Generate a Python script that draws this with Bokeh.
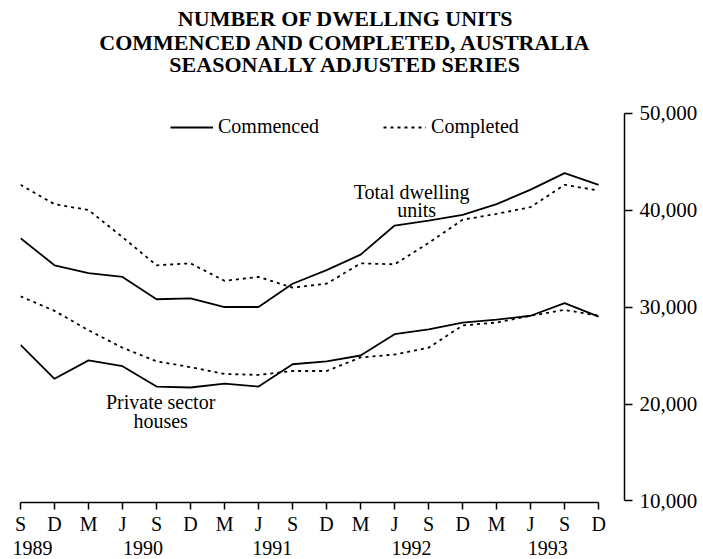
from bokeh.plotting import figure
from bokeh.models import (FixedTicker, NumeralTickFormatter, LinearAxis, Legend, LegendItem,
                          Label, Range1d)
from bokeh.embed import file_html
from bokeh.resources import INLINE
import numpy as np

# ---- data ----
periods = ["Sep 1989", "Dec 1989", "Mar 1990", "Jun 1990", "Sep 1990", "Dec 1990",
           "Mar 1991", "Jun 1991", "Sep 1991", "Dec 1991", "Mar 1992", "Jun 1992",
           "Sep 1992", "Dec 1992", "Mar 1993", "Jun 1993", "Sep 1993", "Dec 1993"]
month_letters = ["S", "D", "M", "J", "S", "D", "M", "J", "S", "D", "M", "J", "S", "D", "M", "J", "S", "D"]
year_labels = ["1989", "1990", "1991", "1992", "1993"]

total_commenced = [37100, 34300, 33500, 33100, 30800, 30900, 30000, 30000, 32400,
                   33800, 35400, 38400, 38900, 39500, 40600, 42100, 43800, 42600]
total_completed = [42600, 40600, 40000, 37200, 34300, 34500, 32700, 33100, 32000,
                   32400, 34500, 34400, 36600, 39000, 39600, 40300, 42600, 42000]
private_commenced = [26100, 22600, 24500, 23900, 21800, 21700, 22100, 21800, 24100,
                     24400, 25000, 27200, 27700, 28400, 28700, 29100, 30400, 29000]
private_completed = [31100, 29600, 27600, 25800, 24400, 23800, 23100, 23000, 23400,
                     23400, 24800, 25100, 25800, 28100, 28400, 29100, 29700, 29100]

y_ticks = [10000, 20000, 30000, 40000, 50000]
title_lines = ["NUMBER OF DWELLING UNITS",
               "COMMENCED AND COMPLETED, AUSTRALIA",
               "SEASONALLY ADJUSTED SERIES"]

# ---- layout constants ----
SERIF = "Liberation Serif"
x = np.arange(len(periods))
year_pos = [0.35, 3.6, 7.4, 11.5, 15.5]

p = figure(width=703, height=559, output_backend="svg", toolbar_location=None,
           y_axis_location="right", x_range=Range1d(0, 17.76), y_range=Range1d(9845, 61600),
           min_border_left=20, min_border_right=79, min_border_bottom=57, min_border_top=0)
p.grid.visible = False
p.outline_line_color = None
p.background_fill_color = "white"

# title lines (drawn inside the tall frame, above the data)
title_style = dict(text_font=SERIF, text_font_size="22px", text_font_style="bold",
                   text_align="center", text_baseline="middle", text_color="black")
for t, ty in zip(title_lines, [59700, 57300, 55050]):
    p.add_layout(Label(x=9.56, y=ty, text=t, **title_style))

# lines
lw = 1.8
dash = "3 4"
r1 = p.line(x, total_commenced, line_color="black", line_width=lw)
r2 = p.line(x, total_completed, line_color="black", line_width=lw, line_dash=dash)
p.line(x, private_commenced, line_color="black", line_width=lw)
p.line(x, private_completed, line_color="black", line_width=lw, line_dash=dash)

# legend
legend = Legend(items=[LegendItem(label="Commenced", renderers=[r1]),
                       LegendItem(label="Completed", renderers=[r2])],
                orientation="horizontal", location=(150, 364), spacing=64,
                glyph_width=43, glyph_height=20, label_standoff=5, padding=0, margin=0,
                border_line_alpha=0, background_fill_alpha=0,
                label_text_font=SERIF, label_text_font_size="20px", label_text_color="black")
p.add_layout(legend, "center")

# annotations
ann_style = dict(text_font=SERIF, text_font_size="20px", text_align="center",
                 text_baseline="middle", text_color="black")
p.add_layout(Label(x=11.5, y=41900, text="Total dwelling", **ann_style))
p.add_layout(Label(x=11.65, y=40050, text="units", **ann_style))
p.add_layout(Label(x=4.12, y=20250, text="Private sector", **ann_style))
p.add_layout(Label(x=4.12, y=18200, text="houses", **ann_style))

# x axis (months)
xa = p.xaxis[0]
xa.bounds = (0, 17)
xa.ticker = FixedTicker(ticks=list(x))
xa.major_label_overrides = {int(i): m for i, m in zip(x, month_letters)}
xa.major_tick_out = 7
xa.major_tick_in = 0
xa.minor_tick_line_color = None
xa.axis_line_width = 1.5
xa.major_tick_line_width = 1.5
xa.major_label_standoff = 3
xa.major_label_text_font = SERIF
xa.major_label_text_font_size = "20px"
xa.major_label_text_color = "black"

# years axis
ya2 = LinearAxis(ticker=FixedTicker(ticks=year_pos),
                 major_label_overrides={pos: y for pos, y in zip(year_pos, year_labels)},
                 axis_line_color=None, major_tick_line_color=None, minor_tick_line_color=None,
                 major_tick_out=0, major_tick_in=0,
                 major_label_standoff=3, major_label_text_font=SERIF,
                 major_label_text_font_size="20px", major_label_text_color="black")
p.add_layout(ya2, "below")

# right y axis
ra = p.yaxis[0]
ra.bounds = (10000, 50000)
ra.ticker = FixedTicker(ticks=y_ticks)
ra.formatter = NumeralTickFormatter(format="0,0")
ra.major_tick_out = 8
ra.major_tick_in = 0
ra.minor_tick_line_color = None
ra.axis_line_width = 1.5
ra.major_tick_line_width = 1.5
ra.major_label_standoff = 7
ra.major_label_text_font = SERIF
ra.major_label_text_font_size = "21px"
ra.major_label_text_color = "black"

open("out.html", "w").write(file_html(p, INLINE))
